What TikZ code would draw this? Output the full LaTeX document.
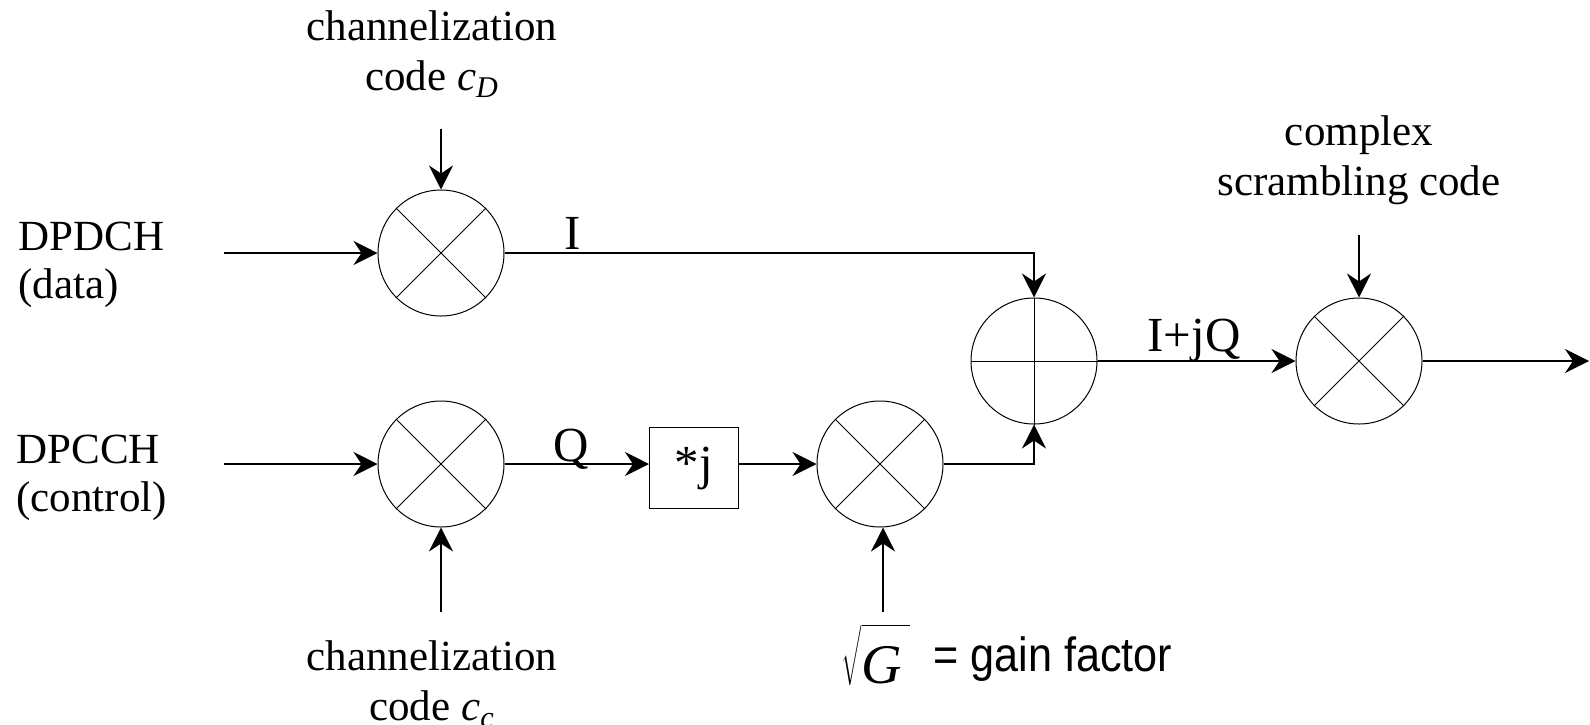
\documentclass[tikz,border=0pt]{standalone}
\usepackage{fontspec}
\setmainfont{Liberation Serif}
\newfontfamily\narrowsans[FakeStretch=0.9]{Liberation Sans}
\usetikzlibrary{arrows.meta}
\begin{document}
\begin{tikzpicture}[x=0.5pt,y=-0.5pt,
  every node/.style={font=\fontsize{21.5}{24}\selectfont},
  mult/.style={circle,draw,line width=0.5pt,minimum size=63pt,inner sep=0pt},
  jbox/.style={draw,line width=0.5pt,minimum width=44.5pt,minimum height=40.5pt,inner sep=0pt,font=\fontsize{24.5}{28}\selectfont},
  arr/.style={-{Stealth[length=12pt,width=12pt,inset=4pt]}},
  conn/.style={line width=0.6pt},
  sig/.style={font=\fontsize{24.5}{28}\selectfont,inner sep=0pt},
  lbl/.style={align=center,inner sep=0pt,font=\fontsize{21.5}{25.2}\selectfont},
  side/.style={align=left,anchor=west,inner sep=0pt}
]
\useasboundingbox (0,0) rectangle (1590,724);
% blocks
\node[mult] (m1) at (441,253) {};
\node[mult] (m2) at (441,464) {};
\node[mult] (m3) at (880,464) {};
\node[mult] (add) at (1034,361) {};
\node[mult] (m4) at (1359,361) {};
\node[jbox] (box) at (694,468) {*j};
\foreach \m in {m1,m2,m3,m4}
  \draw[line width=0.5pt] (\m.north west)--(\m.south east) (\m.north east)--(\m.south west);
\draw[line width=0.5pt] (add.west)--(add.east) (add.north)--(add.south);
% labels
\node[side] (dpdch) at (18,264.5) {DPDCH\\(data)};
\node[side] (dpcch) at (16,477.5) {DPCCH\\(control)};
\node[lbl] (cd) at (432,54) {channelization\\code \textit{c}\textsubscript{\textit{D}}};
\node[lbl] (cc) at (432,684) {channelization\\code \textit{c}\textsubscript{\textit{c}}};
\node[lbl] (sc) at (1359,160) {complex\\scrambling code};
\node[sig,anchor=base] (li) at (573,249) {I};
\node[sig,anchor=base] (lq) at (571,461) {Q};
\node[sig,anchor=base] (ljq) at (1194,351) {I+jQ};
\node[anchor=base,inner sep=0pt,font=\fontsize{28}{32}\selectfont] (g) at (876,683) {$\sqrt{\rule{0pt}{27pt}\mbox{\itshape G}\,}$};
\node[anchor=base west,inner sep=0pt,font=\narrowsans\fontsize{24}{28}\selectfont] (gf) at (933,671) {= gain factor};
% coordinates
\coordinate (in1) at (224,253);
\coordinate (in2) at (224,464);
\coordinate (s1) at (441,129);
\coordinate (s2) at (441,612);
\coordinate (s3) at (883,612);
\coordinate (s4) at (1359,235);
\coordinate (out) at (1589,361);
% connectors
\draw[conn,arr] (in1) -- (m1.west);
\draw[conn,arr] (in2) -- (m2.west);
\draw[conn,arr] (s1) -- (m1.north);
\draw[conn,arr] (s2) -- (m2.south);
\draw[conn,arr] (s3) -- (s3 |- m3.south);
\draw[conn,arr] (s4) -- (m4.north);
\draw[conn,arr] (m1.east) -| (add.north);
\draw[conn,arr] (m2.east) -- (box.west |- m2.east);
\draw[conn,arr] (box.east |- m3.west) -- (m3.west);
\draw[conn,arr] (m3.east) -| (add.south);
\draw[conn,arr] (add.east) -- (m4.west);
\draw[conn,arr] (m4.east) -- (out);
\end{tikzpicture}
\end{document}
